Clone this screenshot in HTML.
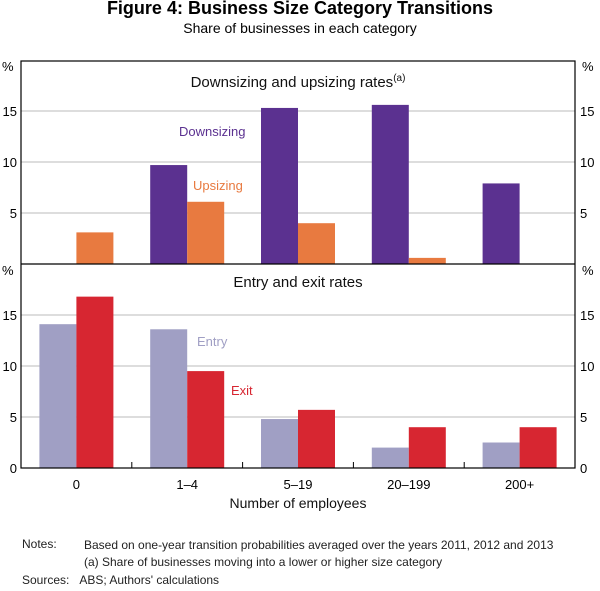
<!DOCTYPE html>
<html><head><meta charset="utf-8"><style>
body{margin:0;background:#fff;font-family:"Liberation Sans",sans-serif;}
#wrap{position:relative;width:600px;height:591px;overflow:hidden}
.t{position:absolute;white-space:nowrap}
</style></head><body><div id="wrap">
<div class="t" style="left:0;width:600px;text-align:center;top:-2px;font-size:18px;font-weight:bold">Figure 4: Business Size Category Transitions</div>
<div class="t" style="left:0;width:600px;text-align:center;top:20px;font-size:14px">Share of businesses in each category</div>
<svg id="svg" width="600" height="591" style="position:absolute;left:0;top:0" font-family="Liberation Sans, sans-serif"></svg>
<div class="t" style="left:22px;top:537px;font-size:12px;color:#222">Notes:</div>
<div class="t" style="left:84px;top:537px;font-size:12px;color:#222;line-height:17px">Based on one-year transition probabilities averaged over the years 2011, 2012 and 2013<br>(a) Share of businesses moving into a lower or higher size category</div>
<div class="t" style="left:22px;top:573px;font-size:12px;color:#222">Sources:&nbsp;&nbsp;&nbsp;ABS; Authors' calculations</div>
</div>
<script>
const categories=["0","1–4","5–19","20–199","200+"];
const downsizing=[null,9.7,15.3,15.6,7.9];
const upsizing=[3.1,6.1,4.0,0.6,null];
const entry=[14.1,13.6,4.8,2.0,2.5];
const exitR=[16.8,9.5,5.7,4.0,4.0];
const ticks=[0,5,10,15];
const svg=document.getElementById('svg');
const NS='http://www.w3.org/2000/svg';
function mk(t,a,txt){const e=document.createElementNS(NS,t);for(const k in a)e.setAttribute(k,a[k]);if(txt!=null)e.textContent=txt;svg.appendChild(e);return e;}
const L=21,R=575,gw=(R-L)/categories.length,bw=37;
function xc(i){return L+gw*(i+0.5);}
function yTop(v){return 264-v*10.2;}
function yBot(v){return 468-v*10.2;}
// gridlines and tick labels
[[yTop,'top'],[yBot,'bottom']].forEach(([yf,p])=>{
 ticks.forEach(t=>{
  if(t>0){const g=mk('line',{x1:L,x2:R,y1:yf(t),y2:yf(t),stroke:'#bbb','stroke-width':1});
  
  }
  if(!(t===0&&p==='top')){
  const a=mk('text',{x:17,y:yf(t)+5,'text-anchor':'end','font-size':13},t);
  
  
  const b=mk('text',{x:580,y:yf(t)+5,'font-size':13},t);
  
  }
 });
 const pl=mk('text',{x:2,y:(p==='top'?61:265)+10,'font-size':13},'%');
 
 
 const pr=mk('text',{x:582,y:(p==='top'?61:265)+10,'font-size':13},'%');
 
 
});
function bars(arr,yf,off,col,name){
 arr.forEach((v,i)=>{if(v==null)return;
  const x=xc(i)+off;const r=mk('rect',{x:x,y:yf(v),width:bw,height:yf(0)-yf(v),fill:col});
  
  });
}
bars(downsizing,yTop,-bw,'#5b3190','downsizing');
bars(upsizing,yTop,0,'#e87a40','upsizing');
bars(entry,yBot,-bw,'#a09fc4','entry');
bars(exitR,yBot,0,'#d72631','exit');
// frame
const f=mk('rect',{x:L,y:61,width:R-L,height:407,fill:'none',stroke:'#000','stroke-width':1.2});


const d=mk('line',{x1:L,x2:R,y1:264,y2:264,stroke:'#000','stroke-width':1.2});


categories.forEach((c,i)=>{
 if(i>0){const tk=mk('line',{x1:L+gw*i,x2:L+gw*i,y1:462,y2:468,stroke:'#000'});
 
 }
 const t=mk('text',{x:xc(i),y:489,'text-anchor':'middle','font-size':13},c);
 
 
});
function lab(x,y,txt,col,name,fs,anchor){const t=mk('text',{x:x,y:y,'font-size':fs||13,fill:col,'text-anchor':anchor||'start'},txt);
 
 return t;}
const pt=lab(298,87,'Downsizing and upsizing rates','#111','top-panel-title',15,'middle');
const sup=document.createElementNS(NS,'tspan');sup.setAttribute('font-size','10');sup.setAttribute('dy','-6');sup.textContent='(a)';pt.appendChild(sup);
lab(298,287,'Entry and exit rates','#111','bottom-panel-title',15,'middle');
lab(179,136,'Downsizing','#5b3190','downsizing-label');
lab(193,190,'Upsizing','#e87a40','upsizing-label');
lab(197,346,'Entry','#a09fc4','entry-label');
lab(231,395,'Exit','#d72631','exit-label');
lab(298,508,'Number of employees','#111','x-axis-title',14,'middle');
</script></body></html>
